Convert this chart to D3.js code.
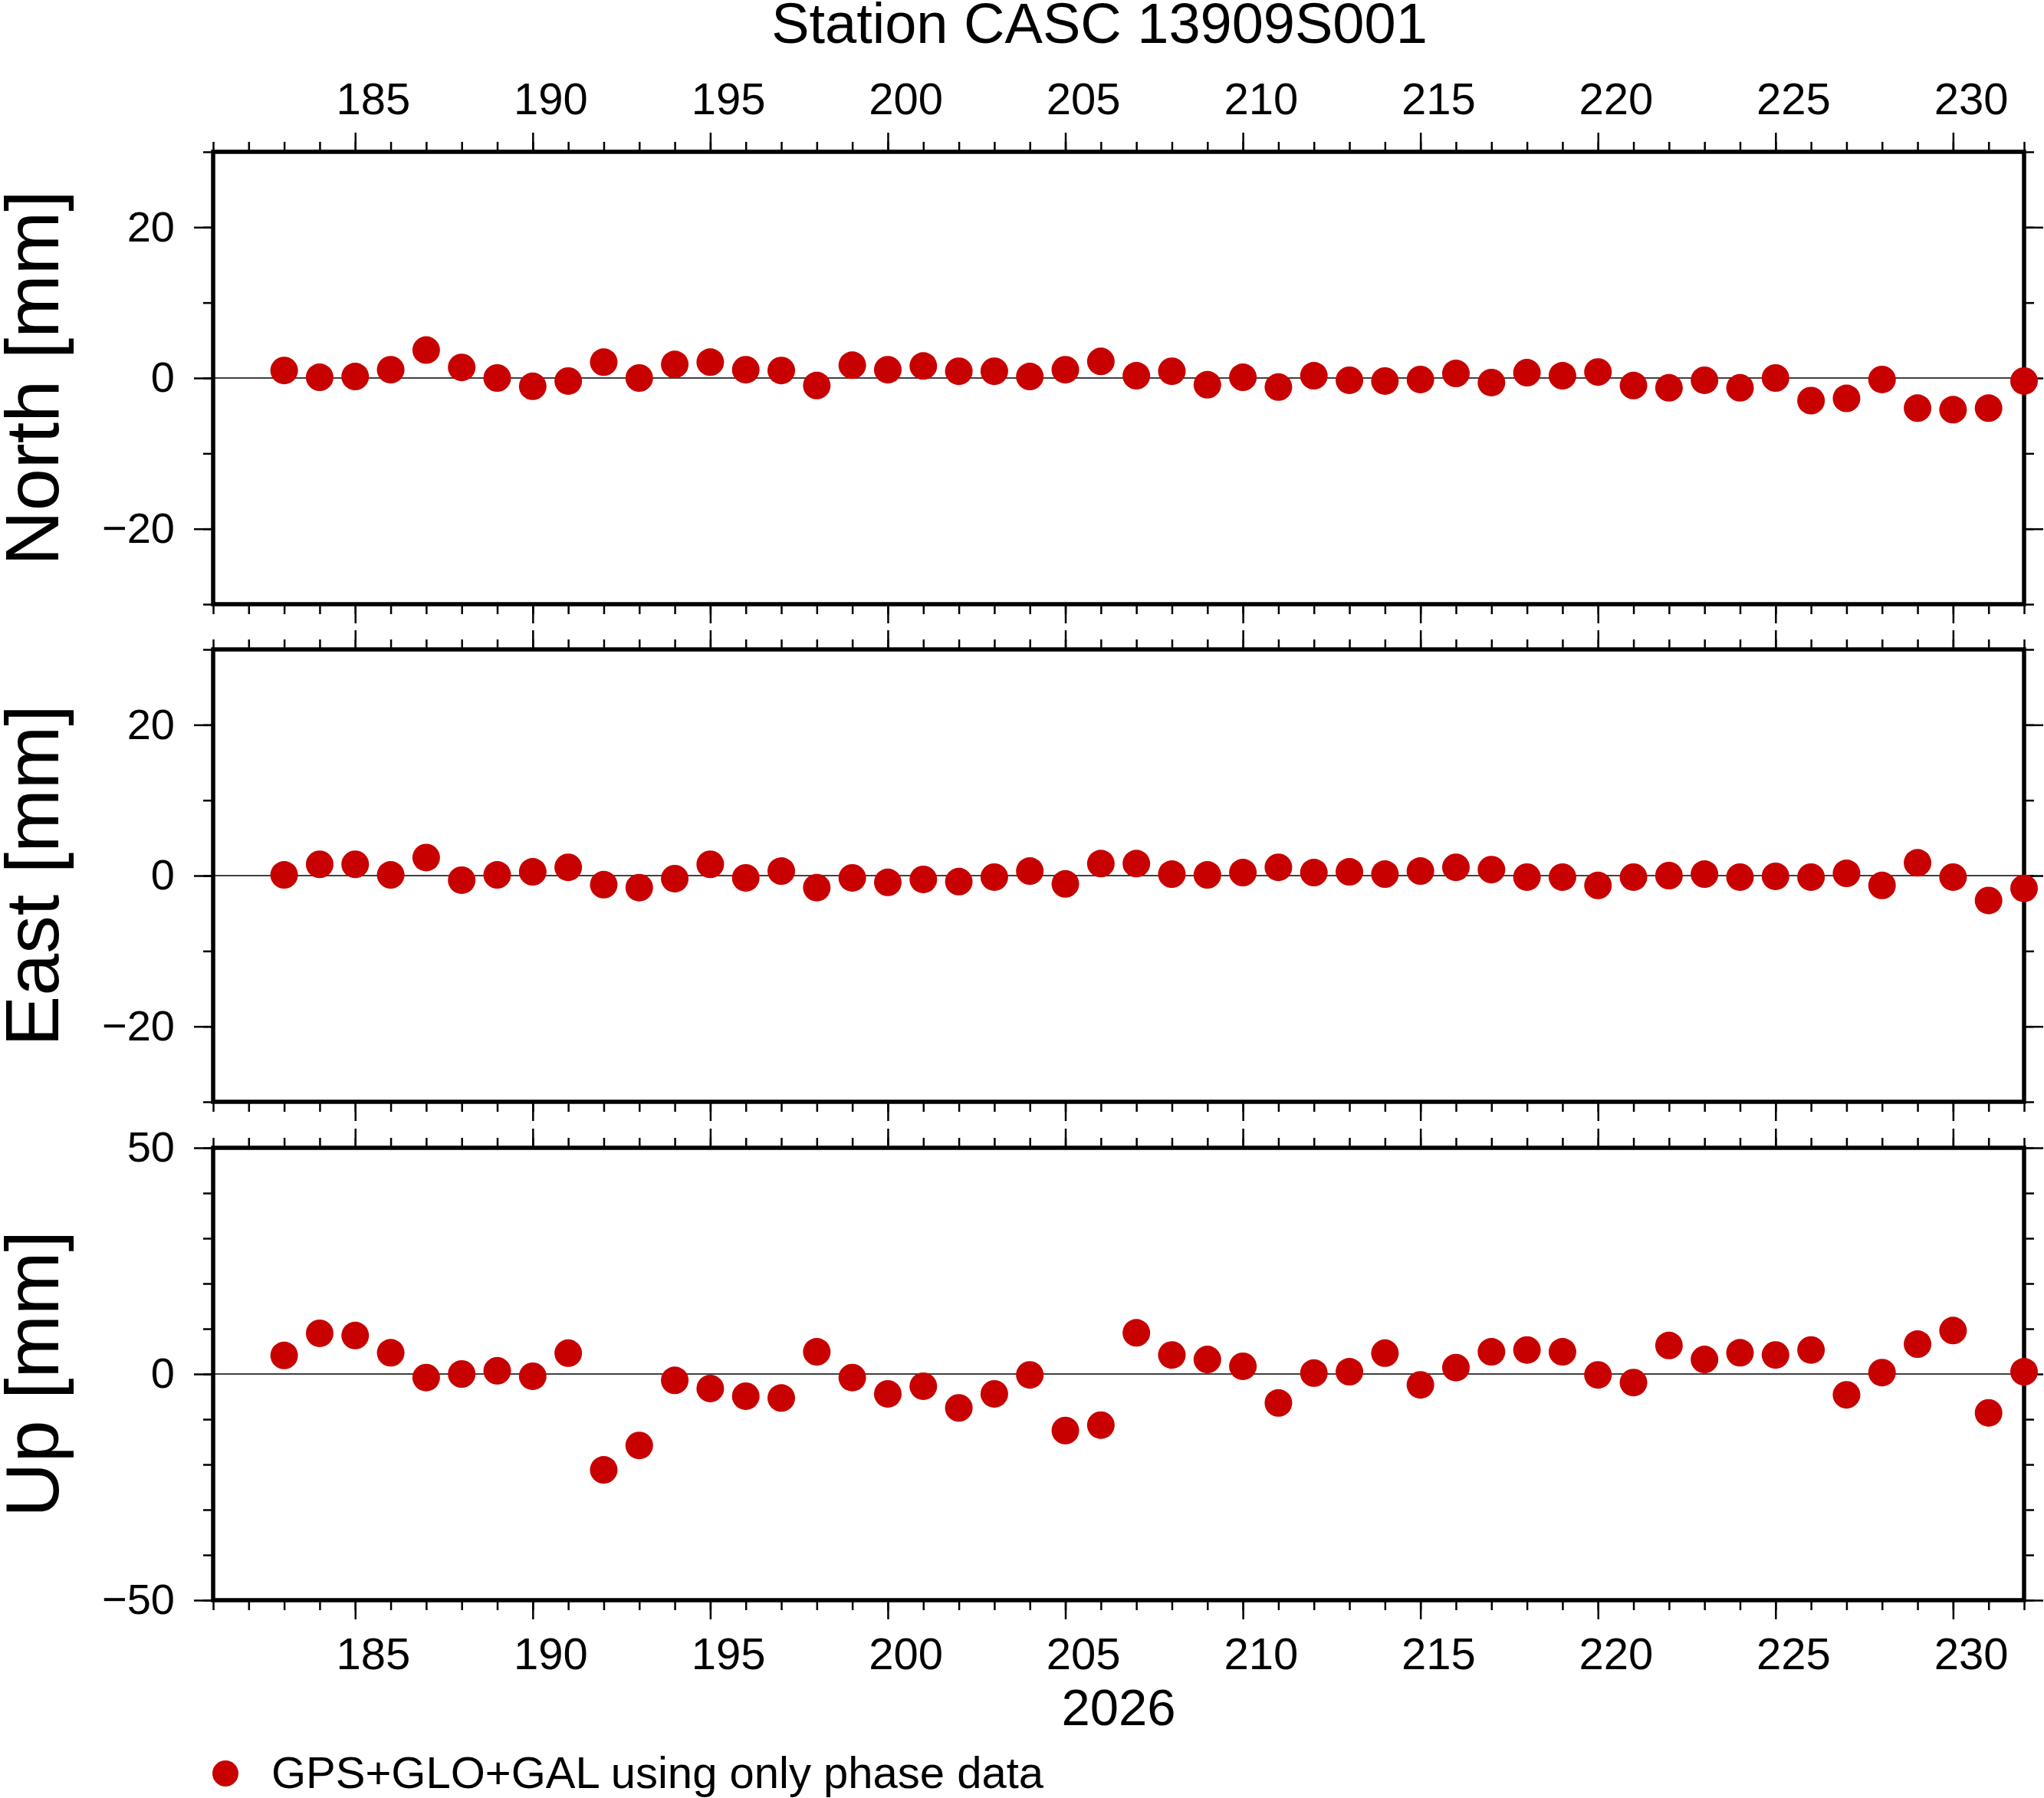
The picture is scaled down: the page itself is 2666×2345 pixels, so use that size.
<!DOCTYPE html>
<html>
  <head>
    <meta charset="utf-8">
    <title>Station CASC 13909S001</title>
    <script src="https://d3js.org/d3.v7.min.js"></script>
    <style>
      body { margin: 0; background: #fff; }
      text { font-family: "Liberation Sans", Arial, Helvetica, sans-serif; fill: #000; }
    </style>
  </head>
  <body>
    <script>
    // day of year 2026
    var days = [183, 184, 185, 186, 187, 188, 189, 190, 191, 192,
                193, 194, 195, 196, 197, 198, 199, 200, 201, 202,
                203, 204, 205, 206, 207, 208, 209, 210, 211, 212,
                213, 214, 215, 216, 217, 218, 219, 220, 221, 222,
                223, 224, 225, 226, 227, 228, 229, 230, 231, 232]

    // residuals in mm
    var north = [1.0, 0.1, 0.2, 1.1, 3.7, 1.4, 0.0, -1.1, -0.4, 2.1,
                 0.0, 1.8, 2.1, 1.1, 1.0, -1.0, 1.7, 1.1, 1.6, 0.9,
                 0.9, 0.2, 1.1, 2.2, 0.3, 0.9, -0.9, 0.1, -1.2, 0.3,
                 -0.3, -0.4, -0.2, 0.6, -0.6, 0.7, 0.3, 0.8, -1.0, -1.3,
                 -0.3, -1.3, 0.0, -3.0, -2.7, -0.2, -4.0, -4.2, -4.0, -0.4]

    var east = [0.1, 1.5, 1.5, 0.1, 2.4, -0.6, 0.1, 0.5, 1.1, -1.2,
                -1.6, -0.4, 1.5, -0.3, 0.6, -1.6, -0.3, -0.9, -0.5, -0.8,
                -0.2, 0.6, -1.1, 1.6, 1.6, 0.2, 0.1, 0.4, 1.1, 0.4,
                0.5, 0.2, 0.6, 1.1, 0.8, -0.2, -0.2, -1.3, -0.2, 0.0,
                0.2, -0.2, -0.1, -0.2, 0.3, -1.3, 1.7, -0.2, -3.3, -1.7]

    var up = [4.1, 9.0, 8.5, 4.7, -0.8, 0.0, 0.7, -0.5, 4.6, -21.2,
              -15.8, -1.4, -3.2, -4.9, -5.3, 4.9, -0.8, -4.4, -2.7, -7.5,
              -4.4, -0.2, -12.5, -11.3, 9.1, 4.2, 3.2, 1.7, -6.4, 0.2,
              0.5, 4.6, -2.4, 1.4, 4.9, 5.3, 4.9, -0.2, -1.9, 6.3,
              3.2, 4.7, 4.2, 5.3, -4.6, 0.3, 6.6, 9.6, -8.6, 0.5]

    var xDomain = [181, 232]
    var xMajor = [185, 190, 195, 200, 205, 210, 215, 220, 225, 230]

    var panelNames = ["North [mm]", "East [mm]", "Up [mm]"]
    var panelValues = [north, east, up]
    var panelDomains = [[-30, 30], [-30, 30], [-50, 50]]
    var panelMajor = [[-20, 0, 20], [-20, 0, 20], [-50, 0, 50]]

    var title = "Station CASC 13909S001"
    var yearLabel = "2026"
    var legendLabel = "GPS+GLO+GAL using only phase data"

    var width = 2666
        height = 2345
        left = 278
        right = 2640
        panelH = 590
        panelTops = [198, 847, 1497]
        dotColor = "#c80000"
        bigTick = 25
        smallTick = 13

    var svg = d3.select("body").append("svg")
                .attr("width", width)
                .attr("height", height)

    svg.append("rect").attr("width", width).attr("height", height).attr("fill", "#fff")

    var x = d3.scaleLinear().domain(xDomain).range([left, right])
    var xMinor = d3.range(xDomain[0], xDomain[1] + 1)

    // helper: strip the domain line and style ticks
    function styleAxis(g, fontSize) {
      g.select(".domain").remove()
      g.selectAll(".tick line").attr("stroke", "#000").attr("stroke-width", 2.5)
      g.selectAll(".tick text").attr("font-size", fontSize).attr("fill", "#000")
        .attr("font-family", "Liberation Sans, Arial, sans-serif")
    }

    // day labels sit in the middle of the day, half a day right of the tick
    var halfDay = x(xDomain[0] + 0.5) - x(xDomain[0])

    panelNames.forEach(function(name, i) {
      var top = panelTops[i]
      var y = d3.scaleLinear().domain(panelDomains[i]).range([top + panelH, top])
      var g = svg.append("g")

      var yMinor = d3.range(panelDomains[i][0], panelDomains[i][1] + 1, 10)

      // y minor + major ticks, left and right
      g.append("g").attr("transform", "translate(" + left + ",0)")
        .call(d3.axisLeft(y).tickValues(yMinor).tickSize(smallTick).tickFormat(""))
        .call(styleAxis, 56)
      g.append("g").attr("transform", "translate(" + left + ",0)")
        .call(d3.axisLeft(y).tickValues(panelMajor[i]).tickSize(bigTick).tickPadding(25)
          .tickFormat(d3.format("d")))
        .call(styleAxis, 56)
      g.append("g").attr("transform", "translate(" + right + ",0)")
        .call(d3.axisRight(y).tickValues(yMinor).tickSize(smallTick).tickFormat(""))
        .call(styleAxis, 56)
      g.append("g").attr("transform", "translate(" + right + ",0)")
        .call(d3.axisRight(y).tickValues(panelMajor[i]).tickSize(bigTick).tickFormat(""))
        .call(styleAxis, 56)

      // x ticks on top and bottom of every panel
      g.append("g").attr("transform", "translate(0," + top + ")")
        .call(d3.axisTop(x).tickValues(xMinor).tickSize(smallTick).tickFormat(""))
        .call(styleAxis, 58)
      g.append("g").attr("transform", "translate(0," + top + ")")
        .call(d3.axisTop(x).tickValues(xMajor).tickSize(bigTick).tickPadding(24)
          .tickFormat(i == 0 ? d3.format("d") : ""))
        .call(styleAxis, 58)
        .selectAll(".tick text").attr("dx", halfDay)
      g.append("g").attr("transform", "translate(0," + (top + panelH) + ")")
        .call(d3.axisBottom(x).tickValues(xMinor).tickSize(smallTick).tickFormat(""))
        .call(styleAxis, 58)
      g.append("g").attr("transform", "translate(0," + (top + panelH) + ")")
        .call(d3.axisBottom(x).tickValues(xMajor).tickSize(bigTick).tickPadding(24)
          .tickFormat(i == 2 ? d3.format("d") : ""))
        .call(styleAxis, 58)
        .selectAll(".tick text").attr("dx", halfDay)

      // zero line
      g.append("line")
        .attr("x1", left).attr("x2", right)
        .attr("y1", y(0)).attr("y2", y(0))
        .attr("stroke", "#000").attr("stroke-width", 1.3)

      // frame
      g.append("rect")
        .attr("x", left).attr("y", top)
        .attr("width", right - left).attr("height", panelH)
        .attr("fill", "none").attr("stroke", "#000").attr("stroke-width", 5.5)

      // dots
      g.selectAll(".dot")
        .data(panelValues[i])
        .enter()
        .append("circle")
        .attr("class", "dot")
        .attr("cx", function(d, j) { return x(days[j]) })
        .attr("cy", function(d) { return y(d) })
        .attr("r", 18)
        .attr("fill", dotColor)

      // y axis title
      svg.append("text")
        .attr("transform", "translate(76," + (top + panelH / 2) + ") rotate(-90)")
        .attr("text-anchor", "middle")
        .attr("font-size", 99)
        .text(name)
    })

    svg.append("text")
      .attr("x", 1434).attr("y", 56)
      .attr("text-anchor", "middle")
      .attr("font-size", 74)
      .text(title)

    svg.append("text")
      .attr("x", (left + right) / 2).attr("y", 2250)
      .attr("text-anchor", "middle")
      .attr("font-size", 67)
      .text(yearLabel)

    // legend
    svg.append("circle")
      .attr("cx", 294).attr("cy", 2313).attr("r", 17)
      .attr("fill", dotColor)
    svg.append("text")
      .attr("x", 354).attr("y", 2332)
      .attr("font-size", 58)
      .text(legendLabel)

    </script>
  </body>
</html>
